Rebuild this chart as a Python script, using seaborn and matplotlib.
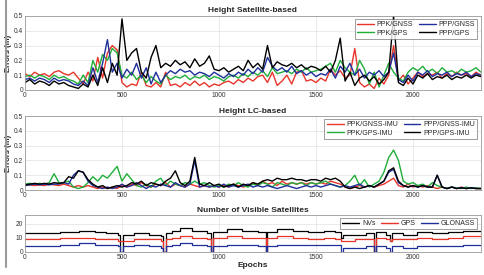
import numpy as np
import pandas as pd
import seaborn as sns
import matplotlib.pyplot as plt
from matplotlib.lines import Line2D
from matplotlib.ticker import FormatStrFormatter

# ======================================
# DATA (every 25 epochs)
# ======================================

epochs = list(range(0, 2375, 25))

# Height Satellite-based
ppk_gnss = [0.11, 0.09, 0.12, 0.10, 0.11, 0.09, 0.12, 0.13, 0.11, 0.10, 0.12, 0.08,
            0.04, 0.12, 0.06, 0.22, 0.08, 0.25, 0.30, 0.27, 0.05, 0.02, 0.04, 0.03,
            0.12, 0.03, 0.02, 0.05, 0.02, 0.12, 0.03, 0.04, 0.02, 0.05, 0.03, 0.06,
            0.03, 0.05, 0.02, 0.04, 0.03, 0.05, 0.06, 0.04, 0.07, 0.05, 0.08, 0.06,
            0.09, 0.10, 0.05, 0.12, 0.03, 0.06, 0.10, 0.04, 0.12, 0.13, 0.06, 0.07,
            0.05, 0.08, 0.06, 0.14, 0.10, 0.13, 0.08, 0.10, 0.28, 0.05, 0.02, 0.04,
            0.01, 0.08, 0.04, 0.10, 0.30, 0.06, 0.10, 0.04, 0.08, 0.12, 0.09, 0.11,
            0.10, 0.12, 0.08, 0.11, 0.09, 0.12, 0.10, 0.11, 0.09, 0.12, 0.10]
ppk_gps = [0.09, 0.10, 0.08, 0.10, 0.09, 0.07, 0.10, 0.08, 0.09, 0.07, 0.06, 0.04,
           0.10, 0.05, 0.20, 0.12, 0.24, 0.20, 0.28, 0.25, 0.10, 0.08, 0.12, 0.07,
           0.10, 0.05, 0.09, 0.06, 0.04, 0.10, 0.07, 0.09, 0.08, 0.10, 0.07, 0.09,
           0.08, 0.10, 0.07, 0.09, 0.08, 0.06, 0.09, 0.10, 0.08, 0.11, 0.09, 0.12,
           0.10, 0.13, 0.09, 0.15, 0.11, 0.12, 0.13, 0.11, 0.14, 0.12, 0.15, 0.12,
           0.13, 0.14, 0.16, 0.18, 0.12, 0.20, 0.15, 0.12, 0.10, 0.20, 0.14, 0.04,
           0.12, 0.02, 0.10, 0.18, 0.12, 0.08, 0.06, 0.12, 0.15, 0.13, 0.16, 0.12,
           0.14, 0.11, 0.15, 0.12, 0.13, 0.11, 0.14, 0.12, 0.13, 0.15, 0.12]
ppp_gnss = [0.07, 0.08, 0.06, 0.08, 0.07, 0.05, 0.08, 0.06, 0.07, 0.06, 0.04, 0.03,
            0.06, 0.03, 0.15, 0.05, 0.18, 0.34, 0.12, 0.18, 0.08, 0.14, 0.10, 0.18,
            0.08, 0.15, 0.04, 0.12, 0.05, 0.10, 0.13, 0.11, 0.14, 0.12, 0.13, 0.10,
            0.12, 0.11, 0.09, 0.12, 0.10, 0.08, 0.11, 0.09, 0.12, 0.10, 0.14, 0.11,
            0.15, 0.12, 0.22, 0.16, 0.13, 0.15, 0.12, 0.16, 0.11, 0.13, 0.10, 0.12,
            0.09, 0.11, 0.10, 0.14, 0.08, 0.16, 0.12, 0.18, 0.10, 0.14, 0.08, 0.12,
            0.10, 0.13, 0.09, 0.12, 0.25, 0.07, 0.05, 0.10, 0.06, 0.12, 0.10, 0.13,
            0.09, 0.11, 0.10, 0.12, 0.09, 0.11, 0.10, 0.12, 0.09, 0.11, 0.10]
ppp_gps = [0.05, 0.07, 0.04, 0.06, 0.05, 0.03, 0.06, 0.04, 0.05, 0.03, 0.02, 0.01,
           0.04, 0.02, 0.10, 0.03, 0.15, 0.05, 0.18, 0.10, 0.48, 0.20, 0.25, 0.28,
           0.12, 0.08, 0.22, 0.30, 0.15, 0.18, 0.16, 0.20, 0.17, 0.19, 0.15, 0.21,
           0.16, 0.18, 0.23, 0.14, 0.13, 0.15, 0.12, 0.14, 0.16, 0.13, 0.20, 0.15,
           0.18, 0.14, 0.30, 0.15, 0.19, 0.17, 0.16, 0.18, 0.15, 0.17, 0.14, 0.16,
           0.15, 0.13, 0.16, 0.12, 0.20, 0.35, 0.06, 0.12, 0.03, 0.08, 0.10, 0.06,
           0.09, 0.04, 0.07, 0.12, 0.50, 0.05, 0.03, 0.08, 0.04, 0.10, 0.08, 0.11,
           0.07, 0.09, 0.08, 0.10, 0.07, 0.09, 0.08, 0.10, 0.08, 0.10, 0.09]

# Height LC-based
ppk_gnss_imu = [0.03, 0.035, 0.03, 0.035, 0.03, 0.04, 0.035, 0.03, 0.04, 0.03, 0.02, 0.03,
                0.02, 0.03, 0.02, 0.01, 0.02, 0.01, 0.02, 0.01, 0.03, 0.02, 0.04, 0.03,
                0.05, 0.03, 0.02, 0.04, 0.03, 0.05, 0.02, 0.04, 0.03, 0.02, 0.04, 0.03,
                0.02, 0.03, 0.02, 0.03, 0.02, 0.03, 0.02, 0.04, 0.03, 0.02, 0.03, 0.05,
                0.03, 0.06, 0.04, 0.05, 0.03, 0.06, 0.04, 0.05, 0.04, 0.05, 0.04, 0.05,
                0.04, 0.05, 0.04, 0.06, 0.05, 0.04, 0.02, 0.01, 0.02, 0.03, 0.02, 0.03,
                0.02, 0.03, 0.04, 0.06, 0.08, 0.03, 0.02, 0.04, 0.02, 0.03, 0.02, 0.03,
                0.02, 0.01, 0.02, 0.01, 0.02, 0.01, 0.02, 0.01, 0.015, 0.01, 0.01]
ppk_gps_imu = [0.04, 0.045, 0.04, 0.045, 0.04, 0.05, 0.11, 0.05, 0.05, 0.06, 0.02, 0.01,
               0.02, 0.05, 0.09, 0.06, 0.10, 0.08, 0.12, 0.16, 0.06, 0.11, 0.07, 0.03,
               0.02, 0.04, 0.02, 0.06, 0.08, 0.03, 0.06, 0.04, 0.03, 0.05, 0.04, 0.06,
               0.04, 0.05, 0.03, 0.02, 0.03, 0.02, 0.04, 0.03, 0.05, 0.03, 0.02, 0.04,
               0.03, 0.05, 0.04, 0.02, 0.05, 0.04, 0.03, 0.05, 0.04, 0.05, 0.03, 0.05,
               0.04, 0.05, 0.06, 0.04, 0.03, 0.02, 0.03, 0.06, 0.10, 0.03, 0.07, 0.02,
               0.04, 0.06, 0.12, 0.22, 0.27, 0.20, 0.06, 0.04, 0.05, 0.03, 0.04, 0.02,
               0.05, 0.03, 0.02, 0.01, 0.02, 0.015, 0.01, 0.02, 0.01, 0.015, 0.01]
ppp_gnss_imu = [0.03, 0.035, 0.04, 0.035, 0.04, 0.035, 0.04, 0.04, 0.05, 0.04, 0.10, 0.13,
                0.12, 0.06, 0.03, 0.02, 0.01, 0.02, 0.01, 0.02, 0.04, 0.02, 0.03, 0.05,
                0.03, 0.01, 0.03, 0.02, 0.04, 0.03, 0.02, 0.05, 0.03, 0.02, 0.04, 0.20,
                0.02, 0.03, 0.02, 0.03, 0.02, 0.04, 0.02, 0.03, 0.02, 0.03, 0.04, 0.02,
                0.03, 0.02, 0.03, 0.02, 0.01, 0.02, 0.03, 0.02, 0.01, 0.02, 0.03, 0.02,
                0.03, 0.02, 0.03, 0.04, 0.03, 0.02, 0.03, 0.02, 0.03, 0.04, 0.02, 0.03,
                0.02, 0.04, 0.06, 0.12, 0.14, 0.05, 0.03, 0.02, 0.03, 0.02, 0.03, 0.02,
                0.02, 0.10, 0.02, 0.01, 0.02, 0.01, 0.015, 0.01, 0.015, 0.01, 0.01]
ppp_gps_imu = [0.035, 0.04, 0.045, 0.04, 0.045, 0.04, 0.05, 0.045, 0.05, 0.09, 0.08, 0.13,
               0.12, 0.07, 0.04, 0.02, 0.03, 0.01, 0.02, 0.03, 0.02, 0.03, 0.05, 0.04,
               0.06, 0.03, 0.05, 0.04, 0.03, 0.06, 0.08, 0.13, 0.05, 0.03, 0.06, 0.22,
               0.04, 0.03, 0.05, 0.03, 0.04, 0.02, 0.03, 0.04, 0.02, 0.04, 0.03, 0.05,
               0.04, 0.06, 0.07, 0.06, 0.08, 0.07, 0.07, 0.08, 0.07, 0.07, 0.06, 0.07,
               0.07, 0.06, 0.08, 0.07, 0.08, 0.06, 0.02, 0.01, 0.02, 0.01, 0.02, 0.03,
               0.02, 0.04, 0.06, 0.13, 0.15, 0.06, 0.03, 0.02, 0.03, 0.02, 0.03, 0.02,
               0.02, 0.10, 0.02, 0.01, 0.02, 0.01, 0.015, 0.01, 0.015, 0.01, 0.01]

# Number of visible satellites (change points)
sat_epochs = [0, 100, 180, 280, 360, 420, 480, 490, 505, 560, 640, 700, 710, 725,
              760, 800, 860, 940, 960, 970, 1040, 1120, 1200, 1240, 1250, 1300,
              1380, 1460, 1540, 1600, 1630, 1640, 1700, 1760, 1800, 1810, 1860,
              1880, 1890, 1950, 2020, 2100, 2180, 2260, 2350]
nvs = [13, 13, 14, 15, 14, 13, 12, 0, 12, 13, 12, 11, 0, 13,
       15, 17, 15, 13, 0, 14, 16, 15, 14, 0, 14, 16,
       15, 14, 15, 14, 10, 12, 12, 13, 0, 14, 12,
       8, 13, 12, 14, 13, 14, 15, 15]
gps = [9, 9, 10, 10, 9, 9, 8, 8, 8, 9, 9, 8, 0, 9,
       10, 11, 10, 9, 0, 10, 11, 10, 10, 0, 10, 11,
       10, 9, 10, 9, 8, 8, 9, 9, 0, 10, 9,
       8, 9, 9, 10, 9, 10, 11, 11]
glonass = [4, 4, 5, 6, 5, 5, 4, 0, 4, 5, 4, 3, 0, 4,
           5, 6, 5, 4, 0, 4, 5, 5, 4, 0, 4, 5,
           5, 5, 5, 5, 0, 3, 3, 4, 0, 4, 3,
           0, 4, 3, 4, 4, 4, 5, 5]

# ======================================
# STYLE
# ======================================

sns.set_theme(style="whitegrid")
plt.rcParams["font.family"] = ["Liberation Sans", "DejaVu Sans"]

RED = "#e8352b"
GREEN = "#1fae3a"
BLUE = "#1f2f9c"
BLACK = "#000000"

fig = plt.figure(figsize=(4.85, 2.75), dpi=100)
ax1 = fig.add_axes([0.0515, 0.673, 0.940, 0.269])
ax2 = fig.add_axes([0.0515, 0.309, 0.940, 0.269])
ax3 = fig.add_axes([0.0515, 0.084, 0.940, 0.134])

fig.add_artist(Line2D([0.012, 0.012], [0.03, 1.0], color="#9a9a9a", lw=1.5))


def style_axes(ax, title):
    ax.set_facecolor("white")
    ax.set_xlim(0, 2350)
    ax.set_xticks([0, 500, 1000, 1500, 2000])
    ax.grid(True, color="#e2e2e2", lw=0.5)
    for s in ax.spines.values():
        s.set_color("#9a9a9a")
        s.set_linewidth(0.6)
    ax.tick_params(labelsize=4.8, length=1.5, pad=1.5, direction="in",
                   colors="#333333", width=0.4)
    ax.set_title(title, fontsize=6, fontweight="bold", pad=2.5)
    ax.set_xlabel("")
    ax.set_ylabel("")


def legend(ax, ncol, anchor):
    leg = ax.legend(loc="upper right", bbox_to_anchor=anchor, ncol=ncol,
                    fontsize=5, frameon=True, fancybox=False,
                    handlelength=2.4, handletextpad=0.4, columnspacing=0.8,
                    borderpad=0.35, labelspacing=0.2, borderaxespad=0.2)
    leg.get_frame().set_edgecolor("#555555")
    leg.get_frame().set_linewidth(0.5)
    for line in leg.get_lines():
        line.set_linewidth(1.0)


# ======================================
# 1. HEIGHT SATELLITE-BASED
# ======================================

for vals, col, lab in [(ppk_gnss, RED, "PPK/GNSS"), (ppk_gps, GREEN, "PPK/GPS"),
                       (ppp_gnss, BLUE, "PPP/GNSS"), (ppp_gps, BLACK, "PPP/GPS")]:
    sns.lineplot(x=epochs, y=vals, color=col, lw=1.0, ax=ax1, label=lab)
style_axes(ax1, "Height Satellite-based")
ax1.set_ylim(0, 0.5)
ax1.yaxis.set_major_formatter(FormatStrFormatter("%g"))
ax1.set_ylabel("Errors (m)", fontsize=5.5, fontweight="bold", labelpad=1)
legend(ax1, 2, (0.995, 0.98))

# ======================================
# 2. HEIGHT LC-BASED
# ======================================

for vals, col, lab in [(ppk_gnss_imu, RED, "PPK/GNSS-IMU"),
                       (ppk_gps_imu, GREEN, "PPK/GPS-IMU"),
                       (ppp_gnss_imu, BLUE, "PPP/GNSS-IMU"),
                       (ppp_gps_imu, BLACK, "PPP/GPS-IMU")]:
    sns.lineplot(x=epochs, y=vals, color=col, lw=1.0, ax=ax2, label=lab)
style_axes(ax2, "Height LC-based")
ax2.set_ylim(0, 0.5)
ax2.yaxis.set_major_formatter(FormatStrFormatter("%g"))
ax2.set_ylabel("Errors (m)", fontsize=5.5, fontweight="bold", labelpad=1)
legend(ax2, 2, (0.995, 0.98))

# ======================================
# 3. NUMBER OF VISIBLE SATELLITES
# ======================================

for vals, col, lab in [(nvs, BLACK, "NVs"), (gps, RED, "GPS"),
                       (glonass, BLUE, "GLONASS")]:
    sns.lineplot(x=sat_epochs, y=vals, color=col, lw=0.9, ax=ax3, label=lab,
                 drawstyle="steps-post")
style_axes(ax3, "Number of Visible Satellites")
ax3.set_ylim(0, 26)
ax3.set_yticks([0, 10, 20])
legend(ax3, 3, (0.995, 0.97))
ax3.set_xlabel("Epochs", fontsize=6, fontweight="bold", labelpad=1)

fig.savefig("out.png", dpi=100)
